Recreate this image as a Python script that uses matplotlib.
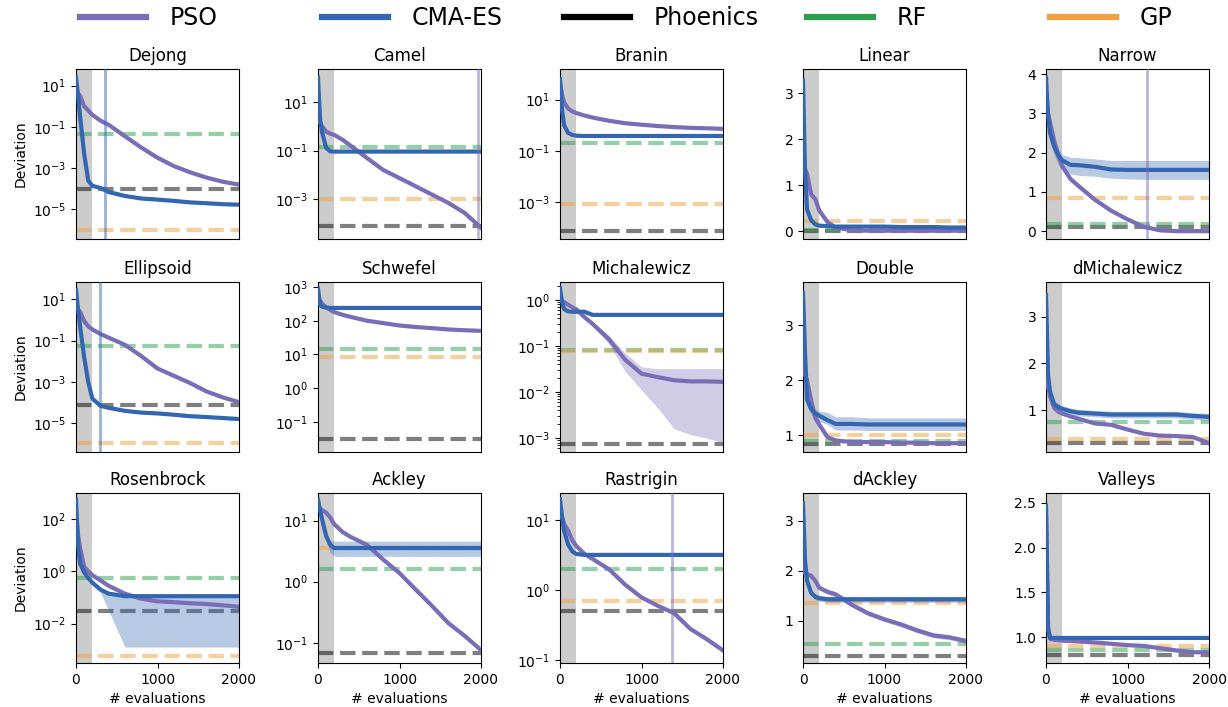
import numpy as np
import matplotlib
matplotlib.use("Agg")
import matplotlib.pyplot as plt
from matplotlib.lines import Line2D
from matplotlib.ticker import FixedLocator, NullLocator, LogLocator

# ---------------- data ----------------
EVALS = [0, 25, 50, 100, 150, 200, 300, 400, 600, 800, 1000, 1200, 1400, 1600, 1800, 2000]
METHODS = ["PSO", "CMA-ES", "Phoenics", "RF", "GP"]

# baselines: [Phoenics, RF, GP]
dejong_pso = [10, 4.0, 3.2, 1.0, 0.63, 0.38, 0.2, 0.126, 0.035, 0.01, 3.2e-3, 1.26e-3, 6.3e-4, 3.5e-4, 2.2e-4, 1.6e-4]
dejong_cma = [25, 3.2, 0.32, 5e-3, 2.5e-4, 1.4e-4, 1.1e-4, 7e-5, 4.5e-5, 3.4e-5, 3.0e-5, 2.6e-5, 2.2e-5, 2.0e-5, 1.8e-5, 1.7e-5]
dejong_base = [1e-4, 0.046, 1e-6]
dejong_vline = 356

camel_pso = [2.0, 1.4, 1.0, 0.6, 0.5, 0.44, 0.28, 0.16, 0.05, 0.016, 7.4e-3, 3.4e-3, 1.55e-3, 7.1e-4, 2.75e-4, 6.8e-5]
camel_cma = [100, 2.0, 0.56, 0.13, 0.093, 0.091, 0.091, 0.091, 0.091, 0.091, 0.091, 0.091, 0.091, 0.091, 0.091, 0.091]
camel_base = [7.9e-5, 0.14, 1e-3]
camel_vline = 1965

branin_pso = [50, 16, 7.9, 4.5, 3.5, 3.0, 2.4, 2.0, 1.5, 1.2, 1.05, 0.93, 0.85, 0.79, 0.76, 0.72]
branin_cma = [63, 4.0, 1.0, 0.5, 0.42, 0.39, 0.38, 0.38, 0.38, 0.38, 0.38, 0.38, 0.38, 0.38, 0.38, 0.38]
branin_base = [7e-5, 0.2, 8e-4]

linear_pso = [1.7, 1.35, 1.25, 0.8, 0.7, 0.45, 0.2, 0.08, 0.02, 0.01, 0.01, 0.01, 0.01, 0.01, 0.01, 0.01]
linear_cma = [3.28, 1.3, 0.47, 0.24, 0.15, 0.12, 0.11, 0.1, 0.1, 0.1, 0.1, 0.09, 0.09, 0.09, 0.08, 0.08]
linear_base = [0.0, 0.02, 0.23]

narrow_pso = [3.5, 3.0, 2.77, 2.3, 1.95, 1.65, 1.33, 1.15, 0.8, 0.52, 0.3, 0.11, 0.02, 0.0, 0.0, 0.0]
narrow_cma = [3.91, 2.95, 2.5, 2.15, 1.93, 1.8, 1.69, 1.68, 1.64, 1.57, 1.56, 1.56, 1.56, 1.56, 1.56, 1.56]
narrow_cma_hi = [4.0, 3.1, 2.65, 2.3, 2.1, 1.95, 1.88, 1.87, 1.84, 1.8, 1.8, 1.8, 1.8, 1.8, 1.8, 1.8]
narrow_cma_lo = [3.8, 2.8, 2.35, 1.95, 1.7, 1.58, 1.46, 1.42, 1.4, 1.35, 1.33, 1.32, 1.32, 1.32, 1.32, 1.32]
narrow_base = [0.1, 0.19, 0.85]
narrow_vline = 1237

ellipsoid_pso = [7.9, 3.2, 2.5, 0.89, 0.5, 0.35, 0.21, 0.14, 0.063, 0.018, 4.5e-3, 2.0e-3, 8.9e-4, 3.5e-4, 1.8e-4, 1.05e-4]
ellipsoid_cma = [28, 3.2, 0.5, 0.016, 1e-3, 1.6e-4, 7e-5, 5.6e-5, 4e-5, 3.3e-5, 3.0e-5, 2.6e-5, 2.2e-5, 2.0e-5, 1.8e-5, 1.6e-5]
ellipsoid_base = [7.8e-5, 0.055, 1.07e-6]
ellipsoid_vline = 295

schwefel_pso = [500, 400, 320, 250, 210, 180, 150, 130, 100, 85, 72, 65, 60, 55, 52, 50]
schwefel_cma = [900, 300, 260, 245, 240, 240, 240, 240, 240, 240, 240, 240, 240, 240, 240, 240]
schwefel_base = [0.03, 14, 8.5]

michalewicz_pso = [1.0, 0.95, 0.89, 0.78, 0.69, 0.62, 0.42, 0.3, 0.14, 0.05, 0.025, 0.021, 0.018, 0.017, 0.017, 0.0166]
michalewicz_pso_hi = [1.0, 0.95, 0.89, 0.78, 0.69, 0.62, 0.44, 0.33, 0.17, 0.07, 0.035, 0.032, 0.032, 0.032, 0.032, 0.032]
michalewicz_pso_lo = [1.0, 0.95, 0.89, 0.78, 0.69, 0.62, 0.4, 0.27, 0.11, 0.028, 0.011, 0.0045, 0.0016, 0.0012, 0.001, 0.0008]
michalewicz_cma = [1.78, 0.89, 0.63, 0.56, 0.55, 0.55, 0.55, 0.47, 0.47, 0.47, 0.47, 0.47, 0.47, 0.47, 0.47, 0.47]
michalewicz_base = [7.6e-4, 0.081, 0.077]

double_pso = [2.4, 2.1, 2.0, 1.64, 1.32, 1.2, 0.97, 0.91, 0.88, 0.88, 0.88, 0.87, 0.87, 0.86, 0.86, 0.86]
double_cma = [3.59, 2.5, 1.65, 1.48, 1.4, 1.36, 1.28, 1.21, 1.21, 1.2, 1.2, 1.2, 1.2, 1.2, 1.2, 1.2]
double_cma_hi = [3.6, 2.6, 1.75, 1.6, 1.48, 1.44, 1.42, 1.34, 1.34, 1.32, 1.32, 1.32, 1.32, 1.32, 1.32, 1.32]
double_cma_lo = [3.55, 2.4, 1.55, 1.38, 1.3, 1.26, 1.2, 1.1, 1.1, 1.09, 1.09, 1.09, 1.09, 1.09, 1.09, 1.09]
double_base = [0.85, 0.9, 1.0]

dmich_pso = [2.0, 1.5, 1.3, 1.05, 0.97, 0.93, 0.87, 0.82, 0.72, 0.69, 0.59, 0.5, 0.46, 0.45, 0.43, 0.3]
dmich_cma = [3.46, 1.75, 1.4, 1.13, 1.07, 1.03, 0.98, 0.95, 0.93, 0.91, 0.91, 0.91, 0.91, 0.91, 0.88, 0.86]
dmich_cma_hi = [3.5, 1.82, 1.47, 1.2, 1.14, 1.1, 1.05, 1.02, 1.0, 0.98, 0.98, 0.98, 0.98, 0.98, 0.95, 0.93]
dmich_cma_lo = [3.4, 1.68, 1.33, 1.06, 1.0, 0.96, 0.91, 0.88, 0.86, 0.84, 0.84, 0.84, 0.84, 0.84, 0.81, 0.79]
dmich_base = [0.31, 0.75, 0.39]

rosenbrock_pso = [170, 25, 7.9, 1.5, 1.0, 0.72, 0.45, 0.28, 0.14, 0.089, 0.071, 0.066, 0.06, 0.056, 0.05, 0.044]
rosenbrock_cma = [550, 10, 2.0, 0.91, 0.56, 0.37, 0.2, 0.14, 0.112, 0.112, 0.112, 0.112, 0.112, 0.112, 0.112, 0.112]
rosenbrock_cma_hi = [560, 11, 2.2, 1.0, 0.62, 0.42, 0.23, 0.16, 0.125, 0.125, 0.125, 0.125, 0.125, 0.125, 0.125, 0.125]
rosenbrock_cma_lo = [550, 10, 2.0, 0.87, 0.5, 0.32, 0.16, 0.032, 0.00126, 0.00126, 0.00126, 0.00126, 0.00126, 0.00126, 0.00126, 0.00126]
rosenbrock_base = [0.031, 0.54, 0.00055]

ackley_pso = [17.8, 15.8, 14.8, 13.5, 11.2, 8.7, 6.5, 5.4, 4.0, 2.3, 1.38, 0.74, 0.4, 0.21, 0.13, 0.076]
ackley_cma = [22, 14.8, 10.5, 5.6, 4.0, 3.55, 3.55, 3.55, 3.55, 3.55, 3.55, 3.55, 3.55, 3.55, 3.55, 3.55]
ackley_cma_hi = [22, 15, 11, 6.2, 4.6, 4.6, 4.6, 4.6, 4.6, 4.6, 4.6, 4.6, 4.6, 4.6, 4.6, 4.6]
ackley_cma_lo = [21, 14.5, 10, 5.0, 3.0, 2.6, 2.6, 2.6, 2.6, 2.6, 2.6, 2.6, 2.6, 2.6, 2.6, 2.6]
ackley_base = [0.068, 1.6, 3.5]

rastrigin_pso = [14, 11.2, 8.9, 7.1, 5.2, 4.3, 3.3, 2.8, 2.0, 1.2, 0.79, 0.6, 0.47, 0.28, 0.2, 0.138]
rastrigin_cma = [20, 11.2, 7.1, 4.5, 3.6, 3.3, 3.2, 3.2, 3.2, 3.2, 3.2, 3.2, 3.2, 3.2, 3.2, 3.2]
rastrigin_base = [0.51, 2.0, 0.71]
rastrigin_vline = 1375

dackley_pso = [2.2, 1.95, 1.93, 1.9, 1.8, 1.66, 1.58, 1.53, 1.32, 1.15, 1.03, 0.93, 0.81, 0.71, 0.67, 0.6]
dackley_pso_hi = [2.25, 2.0, 1.98, 1.95, 1.85, 1.71, 1.63, 1.58, 1.37, 1.2, 1.08, 0.98, 0.86, 0.76, 0.72, 0.65]
dackley_pso_lo = [2.15, 1.9, 1.88, 1.85, 1.75, 1.61, 1.53, 1.48, 1.27, 1.1, 0.98, 0.88, 0.76, 0.66, 0.62, 0.55]
dackley_cma = [3.35, 2.2, 1.8, 1.56, 1.48, 1.45, 1.43, 1.43, 1.43, 1.43, 1.43, 1.43, 1.43, 1.43, 1.43, 1.43]
dackley_cma_hi = [3.4, 2.26, 1.86, 1.62, 1.54, 1.51, 1.49, 1.49, 1.49, 1.49, 1.49, 1.49, 1.49, 1.49, 1.49, 1.49]
dackley_cma_lo = [3.3, 2.14, 1.74, 1.5, 1.42, 1.39, 1.37, 1.37, 1.37, 1.37, 1.37, 1.37, 1.37, 1.37, 1.37, 1.37]
dackley_base = [0.3, 0.53, 1.36]

valleys_pso = [2.41, 1.11, 0.98, 0.97, 0.965, 0.96, 0.955, 0.95, 0.94, 0.925, 0.91, 0.9, 0.875, 0.85, 0.83, 0.83]
valleys_cma = [2.47, 1.1, 0.99, 0.99, 0.99, 0.99, 0.99, 0.99, 0.99, 0.99, 0.99, 0.99, 0.99, 0.99, 0.99, 0.99]
valleys_base = [0.8, 0.85, 0.9]

# ---------------- style ----------------
COLORS = {"PSO": "#7a6db8", "CMA-ES": "#3366b0", "Phoenics": "#000000", "RF": "#2ca050", "GP": "#f0a03c"}
plt.rcParams["font.family"] = ["DejaVu Sans"]
plt.rcParams["font.size"] = 10

fig = plt.figure(figsize=(12.28, 7.07), dpi=100)
FW, FH = 1228.0, 707.0
COL_LEFT = [76, 318, 560, 803, 1046]
ROW_TOP = [69, 282, 493]
AW, AH = 163, 170

panels = [
    # title, log, pso, cma, base, ylim, yticks, bands, vline(x, method), minor
    ("Dejong", True, dejong_pso, dejong_cma, dejong_base, (10**-6.43, 10**1.8), [1e1, 1e-1, 1e-3, 1e-5], {}, (dejong_vline, "CMA-ES"), False),
    ("Camel", True, camel_pso, camel_cma, camel_base, (10**-4.63, 10**2.35), [1e1, 1e-1, 1e-3], {}, (camel_vline, "PSO"), False),
    ("Branin", True, branin_pso, branin_cma, branin_base, (10**-4.45, 10**2.2), [1e1, 1e-1, 1e-3], {}, None, False),
    ("Linear", False, linear_pso, linear_cma, linear_base, (-0.17, 3.53), [0, 1, 2, 3], {}, None, False),
    ("Narrow", False, narrow_pso, narrow_cma, narrow_base, (-0.2, 4.13), [0, 1, 2, 3, 4], {"CMA-ES": (narrow_cma_lo, narrow_cma_hi)}, (narrow_vline, "PSO"), False),
    ("Ellipsoid", True, ellipsoid_pso, ellipsoid_cma, ellipsoid_base, (10**-6.39, 10**1.84), [1e1, 1e-1, 1e-3, 1e-5], {}, (ellipsoid_vline, "CMA-ES"), False),
    ("Schwefel", True, schwefel_pso, schwefel_cma, schwefel_base, (10**-1.9, 10**3.15), [1e3, 1e2, 1e1, 1e0, 1e-1], {}, None, False),
    ("Michalewicz", True, michalewicz_pso, michalewicz_cma, michalewicz_base, (10**-3.3, 10**0.385), [1e0, 1e-1, 1e-2, 1e-3], {"PSO": (michalewicz_pso_lo, michalewicz_pso_hi)}, None, True),
    ("Double", False, double_pso, double_cma, double_base, (0.7, 3.79), [1, 2, 3], {"CMA-ES": (double_cma_lo, double_cma_hi)}, None, False),
    ("dMichalewicz", False, dmich_pso, dmich_cma, dmich_base, (0.11, 3.74), [1, 2, 3], {"CMA-ES": (dmich_cma_lo, dmich_cma_hi)}, None, False),
    ("Rosenbrock", True, rosenbrock_pso, rosenbrock_cma, rosenbrock_base, (10**-3.51, 10**3.0), [1e2, 1e0, 1e-2], {"CMA-ES": (rosenbrock_cma_lo, rosenbrock_cma_hi)}, None, False),
    ("Ackley", True, ackley_pso, ackley_cma, ackley_base, (10**-1.33, 10**1.45), [1e1, 1e0, 1e-1], {"CMA-ES": (ackley_cma_lo, ackley_cma_hi)}, None, False),
    ("Rastrigin", True, rastrigin_pso, rastrigin_cma, rastrigin_base, (10**-1.04, 10**1.39), [1e1, 1e0, 1e-1], {}, (rastrigin_vline, "PSO"), False),
    ("dAckley", False, dackley_pso, dackley_cma, dackley_base, (0.16, 3.55), [1, 2, 3], {"PSO": (dackley_pso_lo, dackley_pso_hi), "CMA-ES": (dackley_cma_lo, dackley_cma_hi)}, None, False),
    ("Valleys", False, valleys_pso, valleys_cma, valleys_base, (0.71, 2.61), [1.0, 1.5, 2.0, 2.5], {}, None, False),
]

for idx, (title, is_log, pso, cma, base, ylim, yticks, bands, vline, minor) in enumerate(panels):
    r, c = divmod(idx, 5)
    ax = fig.add_axes([COL_LEFT[c] / FW, (FH - ROW_TOP[r] - AH) / FH, AW / FW, AH / FH])
    ax.axvspan(0, 200, color="gray", alpha=0.4, lw=0, zorder=0)
    for name, val in zip(["Phoenics", "RF", "GP"], base):
        ax.axhline(val, color=COLORS[name], ls="--", lw=3, alpha=0.5, zorder=1)
    for name, (lo, hi) in bands.items():
        ax.fill_between(EVALS, lo, hi, color=COLORS[name], alpha=0.35, lw=0, zorder=2)
    ax.plot(EVALS, pso, color=COLORS["PSO"], lw=3, zorder=3)
    ax.plot(EVALS, cma, color=COLORS["CMA-ES"], lw=3, zorder=4)
    if vline is not None:
        ax.axvline(vline[0], color=COLORS[vline[1]], lw=2, alpha=0.5, zorder=5)
    if is_log:
        ax.set_yscale("log")
    ax.set_xlim(0, 2000)
    ax.set_ylim(*ylim)
    ax.yaxis.set_major_locator(FixedLocator(yticks))
    if is_log:
        if minor:
            ax.yaxis.set_minor_locator(LogLocator(base=10, subs=np.arange(2, 10)))
        else:
            ax.yaxis.set_minor_locator(NullLocator())
    ax.set_xticks([0, 1000, 2000])
    ax.set_title(title, fontsize=12)
    if r == 2:
        ax.set_xlabel("# evaluations", fontsize=10)
    else:
        ax.tick_params(axis="x", labelbottom=False, length=0)
    if c == 0:
        ax.set_ylabel("Deviation", fontsize=10)

# legend: one entry above each column
for c, name in enumerate(METHODS):
    h = Line2D([], [], color=COLORS[name], lw=4.5)
    fig.legend([h], [name], loc="center left", bbox_to_anchor=(80 / FW + (COL_LEFT[c] - 76) / FW, 1 - 18 / FH),
               frameon=False, fontsize=17, handlelength=2.8, handletextpad=1.0,
               borderpad=0, borderaxespad=0)

fig.savefig("out.png", dpi=100)
